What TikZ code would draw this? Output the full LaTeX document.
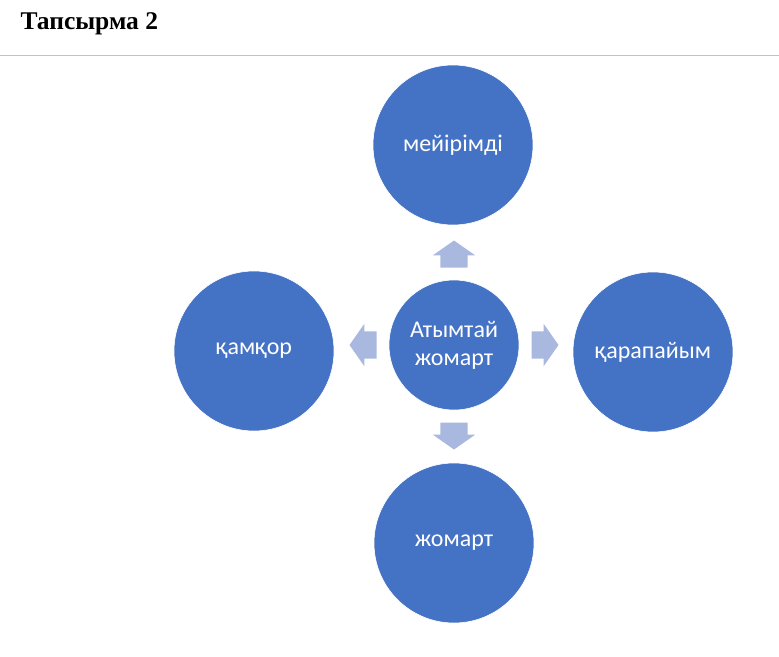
\documentclass[tikz,border=0pt]{standalone}
\usepackage{fontspec}
\usepackage{xcolor}
\usetikzlibrary{shapes.arrows,calc}
\setmainfont{Liberation Serif}
\newfontfamily\circFont{Carlito}
\definecolor{circBlue}{RGB}{68,114,196}
\definecolor{arrBlue}{RGB}{169,184,222}
\definecolor{ruleGray}{RGB}{195,195,195}

\begin{document}
\begin{tikzpicture}[x=1pt,y=-1pt]
% define circles and block arrows
\tikzset{
    circ/.style={circle,fill=circBlue,draw=white,line width=0.6pt,inner sep=0pt,
        align=center,text=white,font=\circFont\fontsize{24}{28}\selectfont},
    blockArr/.style={single arrow,fill=arrBlue,draw=none,inner xsep=0pt,inner ysep=13.5pt,
        minimum height=27pt,minimum width=42pt,anchor=tail,
        single arrow head extend=7.5pt,single arrow tip angle=110}
}

%% CONFIG
% Size of circles
\def\sizeMain{130pt}
\def\sizeOut{160pt}
% Gap between central circle and arrow tail
\def\gapArr{12pt}

\useasboundingbox (0,0) rectangle (779,656);

% Draw the title and the rule
\node [anchor=base west,font=\bfseries\fontsize{25.5}{30}\selectfont] (title) at (17,29) {Тапсырма 2};
\draw [ruleGray,line width=0.8pt] (0,55) -- (779,55);

% Draw the central circle
\node [circ,minimum size=\sizeMain] (circ_center) at (454,345) {Атымтай\\жомарт};

% Draw the outer circles
\node [circ,minimum size=\sizeOut] (circ_top) at (453,145) {мейірімді};
\node [circ,minimum size=\sizeOut] (circ_left) at (254,351) {қамқор};
\node [circ,minimum size=\sizeOut] (circ_right) at (653,352) {қарапайым};
\node [circ,minimum size=\sizeOut] (circ_bottom) at (454,543) {жомарт};

% Draw block arrows from the center towards each outer circle
\foreach \from/\id/\rot in {north/top/90, west/left/180, east/right/0, south/bottom/270}{
    \node [blockArr,rotate=\rot] (arr_\id) at ([shift={(\rot:\gapArr)}]circ_center.\from) {};
}

\end{tikzpicture}
\end{document}
